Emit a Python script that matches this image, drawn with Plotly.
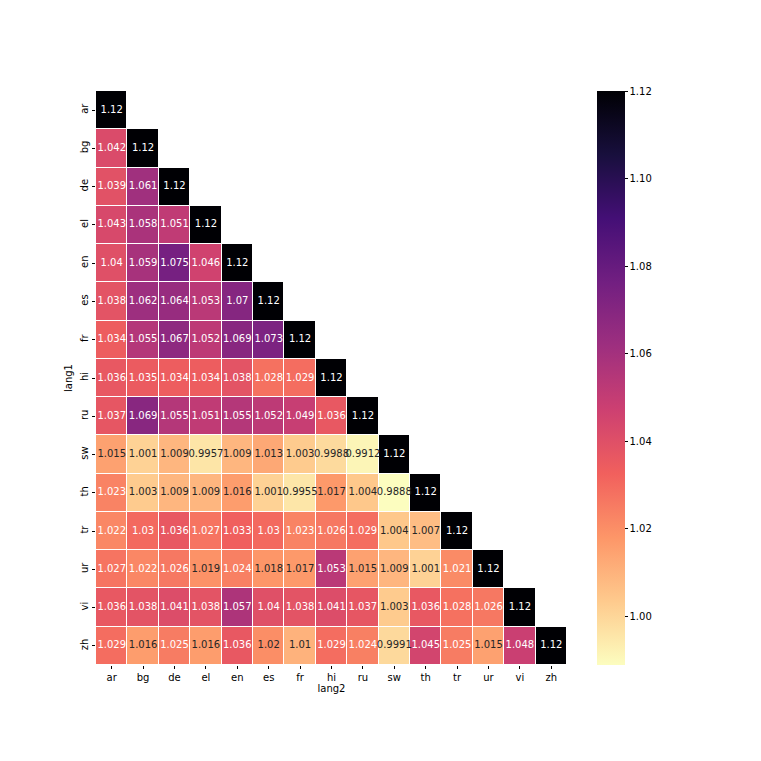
import plotly.graph_objects as go

langs = ["ar", "bg", "de", "el", "en", "es", "fr", "hi", "ru", "sw", "th", "tr", "ur", "vi", "zh"]

row_ar = [1.12]
row_bg = [1.042, 1.12]
row_de = [1.039, 1.061, 1.12]
row_el = [1.043, 1.058, 1.051, 1.12]
row_en = [1.04, 1.059, 1.075, 1.046, 1.12]
row_es = [1.038, 1.062, 1.064, 1.053, 1.07, 1.12]
row_fr = [1.034, 1.055, 1.067, 1.052, 1.069, 1.073, 1.12]
row_hi = [1.036, 1.035, 1.034, 1.034, 1.038, 1.028, 1.029, 1.12]
row_ru = [1.037, 1.069, 1.055, 1.051, 1.055, 1.052, 1.049, 1.036, 1.12]
row_sw = [1.015, 1.001, 1.009, 0.9957, 1.009, 1.013, 1.003, 0.9988, 0.9912, 1.12]
row_th = [1.023, 1.003, 1.009, 1.009, 1.016, 1.001, 0.9955, 1.017, 1.004, 0.9888, 1.12]
row_tr = [1.022, 1.03, 1.036, 1.027, 1.033, 1.03, 1.023, 1.026, 1.029, 1.004, 1.007, 1.12]
row_ur = [1.027, 1.022, 1.026, 1.019, 1.024, 1.018, 1.017, 1.053, 1.015, 1.009, 1.001, 1.021, 1.12]
row_vi = [1.036, 1.038, 1.041, 1.038, 1.057, 1.04, 1.038, 1.041, 1.037, 1.003, 1.036, 1.028, 1.026, 1.12]
row_zh = [1.029, 1.016, 1.025, 1.016, 1.036, 1.02, 1.01, 1.029, 1.024, 0.9991, 1.045, 1.025, 1.015, 1.048, 1.12]

rows = [row_ar, row_bg, row_de, row_el, row_en, row_es, row_fr, row_hi,
        row_ru, row_sw, row_th, row_tr, row_ur, row_vi, row_zh]

n = len(langs)
z = [r + [None] * (n - len(r)) for r in rows]
allv = [v for r in rows for v in r]
zmin, zmax = min(allv), max(allv)

tx, ty, tt, tc = [], [], [], []
for i, r in enumerate(rows):
    for j, v in enumerate(r):
        tx.append(langs[j])
        ty.append(langs[i])
        tt.append("{:.4g}".format(v))
        tc.append("white" if v > 1.0205 else "#262626")

font = "DejaVu Sans, Arial, sans-serif"

# page body has an 8px default margin; figure sized to fit the window
W = H = 753
L, T = 88, 83
PW, PH = 471, 574

fig = go.Figure()
fig.add_trace(go.Heatmap(
    z=z, x=langs, y=langs,
    colorscale="Magma", reversescale=True,
    zmin=zmin, zmax=zmax,
    xgap=1, ygap=1,
    hoverinfo="skip",
    colorbar=dict(
        x=(597 - 96) / PW, xanchor="left", xref="paper", xpad=0,
        y=0, yanchor="bottom", len=1, lenmode="fraction", ypad=0,
        thickness=28, outlinewidth=0,
        tickvals=[1.00, 1.02, 1.04, 1.06, 1.08, 1.10, 1.12],
        ticktext=["1.00", "1.02", "1.04", "1.06", "1.08", "1.10", "1.12"],
        ticks="outside", ticklen=3, tickcolor="black",
        tickfont=dict(family=font, size=10, color="black"),
    ),
))
fig.add_trace(go.Scatter(
    x=tx, y=ty, mode="text", text=tt,
    textfont=dict(family=font, size=10, color=tc),
    hoverinfo="skip", showlegend=False,
))

fig.update_layout(
    width=W, height=H,
    margin=dict(l=L, r=W - L - PW, t=T, b=H - T - PH),
    paper_bgcolor="white", plot_bgcolor="white",
    font=dict(family=font, size=10, color="black"),
    showlegend=False,
)
fig.update_xaxes(
    type="category", categoryorder="array", categoryarray=langs,
    showgrid=False, zeroline=False, showline=False,
    ticks="outside", ticklen=3, tickcolor="black",
    tickfont=dict(family=font, size=10),
    title=dict(text="lang2", font=dict(family=font, size=10), standoff=2),
    range=[-0.5, n - 0.5], automargin=False,
)
fig.update_yaxes(
    type="category", categoryorder="array", categoryarray=langs,
    showgrid=False, zeroline=False, showline=False,
    ticks="outside", ticklen=3, tickcolor="black",
    tickangle=-90,
    tickfont=dict(family=font, size=10),
    title=dict(text="lang1", font=dict(family=font, size=10), standoff=4),
    range=[n - 0.5, -0.5], automargin=False,
)

fig.write_html("out.html")
